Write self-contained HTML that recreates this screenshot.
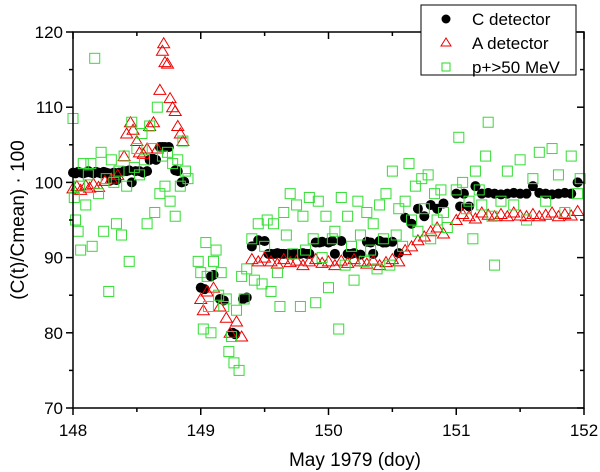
<!DOCTYPE html>
<html><head><meta charset="utf-8"><style>
body{margin:0;background:#fff;}
svg{display:block;font-family:"Liberation Sans",Arial,sans-serif;}
</style></head><body>
<svg id="chart" width="600" height="472">
<g id="marks"></g>
<g id="axes"></g>
<g>
<rect x="421" y="5" width="155" height="70" fill="#fff" stroke="#000" stroke-width="1"/>
<circle cx="446" cy="19" r="4.5" fill="#000"/>
<text x="472" y="25" font-size="17">C detector</text>
<polygon points="446,38 441,46 451,46" fill="none" stroke="#e00" stroke-width="1"/>
<text x="472" y="49" font-size="17">A detector</text>
<rect x="442" y="63" width="8" height="8" fill="none" stroke="#2d2" stroke-width="1"/>
<text x="472" y="73" font-size="17">p+&gt;50 MeV</text>
</g>
<text x="355" y="466" font-size="19" text-anchor="middle">May 1979 (doy)</text>
<text transform="translate(24,220) rotate(-90)" font-size="19" text-anchor="middle">(C(t)/Cmean) · 100</text>
</svg>
<script>
const cDay=[148.0,148.02,148.04,148.06,148.08,148.1,148.12,148.14,148.16,148.18,148.2,148.22,148.24,148.26,148.28,148.3,148.32,148.34,148.36,148.4,148.42,148.44,148.46,148.49,148.52,148.55,148.58,148.6,148.62,148.65,148.68,148.7,148.72,148.75,148.8,148.82,148.85,148.87,
149.0,149.03,149.08,149.1,149.15,149.18,149.25,149.27,149.33,149.36,149.4,149.45,149.5,149.53,149.55,149.58,149.6,149.63,149.65,149.68,149.7,149.73,149.75,149.78,149.8,149.83,149.85,149.9,149.93,149.95,150.0,150.03,150.05,150.1,150.15,150.18,150.2,150.25,150.3,150.33,150.35,150.4,150.43,150.45,150.5,150.55,150.6,150.65,150.7,150.75,150.8,150.85,150.9,
151.0,151.03,151.06,151.1,151.15,151.2,151.25,151.3,151.35,151.4,151.45,151.5,151.55,151.6,151.65,151.7,151.75,151.8,151.85,151.9,151.95];
const cVal=[101.3,101.2,101.4,101.3,101.2,101.3,101.5,101.3,101.2,101.4,101.3,101.2,101.4,101.3,101.2,100.3,101.3,100.3,101.3,101.5,101.5,101.6,100.0,101.5,101.5,101.3,101.5,103.0,103.2,103.0,104.7,104.7,104.7,104.7,101.6,101.5,100.0,100.1,
86.0,85.8,87.5,87.7,84.5,84.3,80.0,79.8,84.5,84.7,91.5,92.3,92.2,90.5,90.5,90.5,90.6,90.5,90.5,90.5,90.4,90.5,90.5,90.5,90.6,90.5,90.5,92.0,92.0,92.1,92.0,92.2,90.5,92.2,90.5,90.5,90.6,90.4,92.1,92.0,90.5,92.2,92.0,92.0,92.1,90.6,95.3,94.5,96.5,95.5,97.0,96.5,97.2,
98.5,96.8,98.5,96.8,99.5,98.5,98.6,98.5,98.4,98.5,98.6,98.5,98.5,99.5,98.6,98.5,98.4,98.5,98.6,98.5,100.0];
const aDay=[148.0,148.03,148.06,148.1,148.13,148.16,148.2,148.25,148.3,148.35,148.4,148.42,148.45,148.47,148.5,148.52,148.55,148.58,148.6,148.63,148.66,148.68,148.7,148.71,148.72,148.74,148.76,148.78,148.8,148.82,148.84,148.86,
149.0,149.02,149.05,149.1,149.15,149.2,149.23,149.28,149.32,149.4,149.45,149.5,149.55,149.6,149.65,149.7,149.75,149.8,149.85,149.9,149.95,150.0,150.05,150.1,150.15,150.2,150.25,150.3,150.35,150.4,150.45,150.5,150.55,150.6,150.65,150.7,150.75,150.8,150.85,150.9,
151.0,151.05,151.1,151.15,151.2,151.25,151.3,151.35,151.4,151.45,151.5,151.55,151.6,151.65,151.7,151.75,151.8,151.85,151.9,151.95];
const aVal=[99.2,99.5,99.0,99.6,99.3,99.8,99.4,100.2,100.5,101.0,103.5,106.5,108.0,107.0,105.5,104.0,103.8,104.5,107.5,108.0,104.5,112.3,117.5,118.5,116.0,115.8,111.2,110.0,109.5,107.5,106.5,105.5,
84.5,83.0,85.5,86.0,83.5,82.0,80.0,81.5,79.5,89.8,89.5,90.0,89.5,89.2,89.8,89.4,89.6,89.0,89.5,89.8,89.3,89.5,89.0,89.6,89.3,89.8,89.5,89.2,89.6,89.0,89.4,89.8,89.5,91.0,91.5,92.3,92.8,93.5,94.0,93.2,
95.0,95.8,95.5,95.2,96.0,95.7,95.5,95.8,95.5,96.0,95.6,95.5,95.8,95.5,95.7,96.0,95.5,95.8,95.6,96.2];
const pDay=[148.0,148.01,148.02,148.04,148.05,148.06,148.08,148.1,148.12,148.14,148.15,148.17,148.2,148.22,148.24,148.26,148.28,148.3,148.32,148.34,148.36,148.38,148.4,148.42,148.44,148.46,148.48,148.5,148.52,148.54,148.56,148.58,148.6,148.62,148.64,148.66,148.68,148.7,148.72,148.74,148.76,148.78,148.8,148.82,148.84,148.86,148.88,148.9,
148.98,149.0,149.02,149.04,149.05,149.06,149.08,149.1,149.12,149.14,149.16,149.18,149.2,149.22,149.24,149.26,149.28,149.3,149.32,149.34,149.36,149.4,149.42,149.45,149.48,149.5,149.52,149.55,149.57,149.6,149.62,149.65,149.67,149.7,149.72,149.75,149.78,149.8,149.82,149.85,149.88,149.9,149.92,149.95,149.98,150.0,150.03,150.05,150.08,150.1,150.13,150.15,150.18,150.2,150.23,150.25,150.28,150.3,150.33,150.35,150.38,150.4,150.43,150.45,150.48,150.5,150.53,150.55,150.58,150.6,150.63,150.65,150.68,150.7,150.73,150.75,150.78,150.8,150.83,150.85,150.88,150.9,150.93,
151.0,151.02,151.05,151.08,151.1,151.13,151.15,151.18,151.2,151.23,151.25,151.28,151.3,151.35,151.4,151.45,151.5,151.55,151.6,151.65,151.7,151.75,151.8,151.85,151.9,151.95,151.97];
const pVal=[108.5,98.0,95.0,93.5,99.5,91.0,102.5,97.0,101.0,102.5,91.5,116.5,98.5,104.0,93.5,100.5,85.5,103.0,100.0,94.5,101.5,93.0,103.5,99.5,89.5,108.0,102.0,104.5,101.0,106.5,103.0,94.5,107.5,104.5,96.0,110.0,98.5,103.5,99.5,104.0,97.5,102.5,95.5,103.0,99.5,105.5,101.5,100.5,
89.5,88.0,80.5,92.0,87.5,83.5,80.0,89.5,91.0,85.0,88.0,83.5,84.5,77.5,79.5,76.0,83.0,75.0,87.5,84.5,88.5,92.5,87.0,94.5,86.5,91.5,95.0,85.5,94.5,88.0,83.5,96.0,93.0,98.5,90.5,97.0,83.5,95.5,91.0,98.0,92.5,84.0,97.5,90.0,95.5,86.0,92.5,93.5,80.5,98.0,89.0,95.5,91.5,87.0,97.5,93.0,89.5,96.0,91.0,94.5,88.5,97.0,92.5,98.5,89.0,101.5,93.0,96.5,91.5,97.5,102.5,95.0,99.5,93.5,100.5,96.5,101.0,92.5,98.5,95.0,99.0,96.0,94.0,
99.0,106.0,100.0,96.5,97.5,92.5,101.5,99.0,97.0,103.5,108.0,95.5,89.0,97.5,101.5,97.0,103.0,95.0,100.5,104.0,97.5,104.5,101.0,96.0,103.5,98.5,100.5];
const X0=73,X1=584,Y0=408,Y1=32;
const xs=d=>X0+(d-148)/4*(X1-X0);
const ys=v=>Y0-(v-70)/50*(Y0-Y1);
const NS="http://www.w3.org/2000/svg";
const marks=document.getElementById('marks');
function mk(t,a){const e=document.createElementNS(NS,t);for(const k in a)e.setAttribute(k,a[k]);return e;}
for(let i=0;i<cDay.length;i++){const e=mk('circle',{cx:xs(cDay[i]),cy:ys(cVal[i]),r:5,fill:'#000'});


marks.appendChild(e);}
for(let i=0;i<aDay.length;i++){const x=xs(aDay[i]),y=ys(aVal[i]);const e=mk('polygon',{points:`${x},${y-5.5} ${x-6},${y+4.5} ${x+6},${y+4.5}`,fill:'none',stroke:'#e00','stroke-width':1});


marks.appendChild(e);}
for(let i=0;i<pDay.length;i++){const x=xs(pDay[i]),y=ys(pVal[i]);const e=mk('rect',{x:x-5,y:y-5,width:10,height:10,fill:'none',stroke:'#33dd33','stroke-width':1});


marks.appendChild(e);}
const axes=document.getElementById('axes');
axes.appendChild(mk('rect',{x:X0,y:Y1,width:X1-X0,height:Y0-Y1,fill:'none',stroke:'#000','stroke-width':1.5}));
const xTicks=[148,149,150,151,152];
const yTicks=[70,80,90,100,110,120];
for(let d=148;d<=152;d+=0.5){const x=xs(d),l=(d%1===0)?7:4;
axes.appendChild(mk('line',{x1:x,x2:x,y1:Y0,y2:Y0+l,stroke:'#000','stroke-width':1.5}));
axes.appendChild(mk('line',{x1:x,x2:x,y1:Y1,y2:Y1+l,stroke:'#000','stroke-width':1.5}));}
for(let v=70;v<=120;v+=5){const y=ys(v),l=(v%10===0)?7:4;
axes.appendChild(mk('line',{x1:X0-l,x2:X0,y1:y,y2:y,stroke:'#000','stroke-width':1.5}));
axes.appendChild(mk('line',{x1:X1-l,x2:X1,y1:y,y2:y,stroke:'#000','stroke-width':1.5}));}
xTicks.forEach(d=>{const t=mk('text',{x:xs(d),y:Y0+28,'font-size':17,'text-anchor':'middle'});t.textContent=d;


axes.appendChild(t);});
yTicks.forEach(v=>{const t=mk('text',{x:X0-10,y:ys(v)+6,'font-size':17,'text-anchor':'end'});t.textContent=v;


axes.appendChild(t);});
</script>
</body></html>
